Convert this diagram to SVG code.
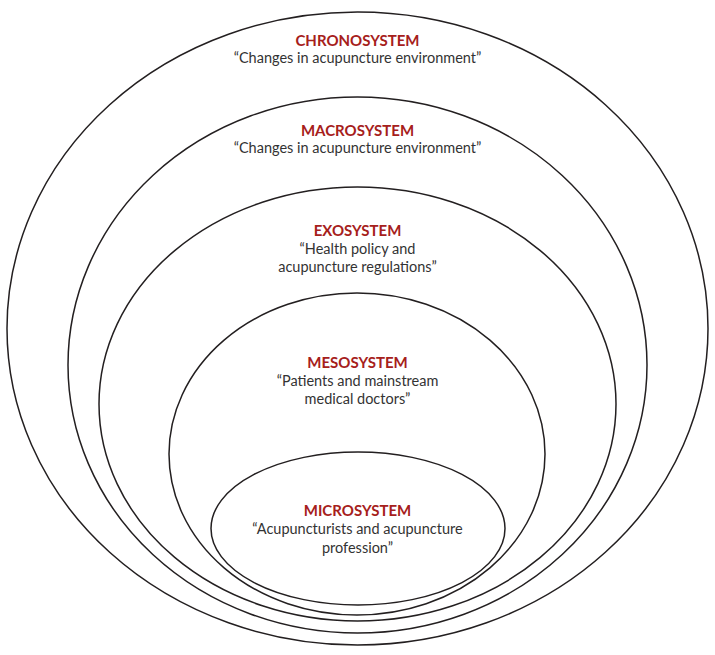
<svg xmlns="http://www.w3.org/2000/svg" width="715" height="655" viewBox="0 0 715 655">
<style>
.ring{fill:none;stroke:#231f20;stroke-width:1.5}
.t{font-family:Lato,"Open Sans","Liberation Sans",sans-serif;font-weight:bold;font-size:15px;fill:#a6201b;text-anchor:middle}
.s{font-family:Lato,"Open Sans","Liberation Sans",sans-serif;font-size:14.5px;fill:#333;text-anchor:middle}
</style>
<rect width="715" height="655" fill="#fff"/>
<g id="chronosystem">
<ellipse class="ring" cx="357.5" cy="328.5" rx="350.5" ry="316.5"/>
<text class="t" x="357.5" y="46">CHRONOSYSTEM</text>
<text class="s" x="357.5" y="63">“Changes in acupuncture environment”</text>
</g>
<g id="macrosystem">
<ellipse class="ring" cx="357.5" cy="365" rx="289.5" ry="268"/>
<text class="t" x="357.5" y="136">MACROSYSTEM</text>
<text class="s" x="357.5" y="153">“Changes in acupuncture environment”</text>
</g>
<g id="exosystem">
<ellipse class="ring" cx="357.5" cy="404" rx="258.5" ry="217"/>
<text class="t" x="357.5" y="236">EXOSYSTEM</text>
<text class="s" x="357.5" y="254">“Health policy and</text>
<text class="s" x="357.5" y="272">acupuncture regulations”</text>
</g>
<g id="mesosystem">
<ellipse class="ring" cx="357" cy="454" rx="188" ry="161"/>
<text class="t" x="357.5" y="368">MESOSYSTEM</text>
<text class="s" x="357.5" y="386">“Patients and mainstream</text>
<text class="s" x="357.5" y="404">medical doctors”</text>
</g>
<g id="microsystem">
<ellipse class="ring" cx="358" cy="528.5" rx="147" ry="76.5"/>
<text class="t" x="357.5" y="516">MICROSYSTEM</text>
<text class="s" x="357.5" y="534">“Acupuncturists and acupuncture</text>
<text class="s" x="357.5" y="553">profession”</text>
</g>
<g id="connectors"></g>
</svg>
